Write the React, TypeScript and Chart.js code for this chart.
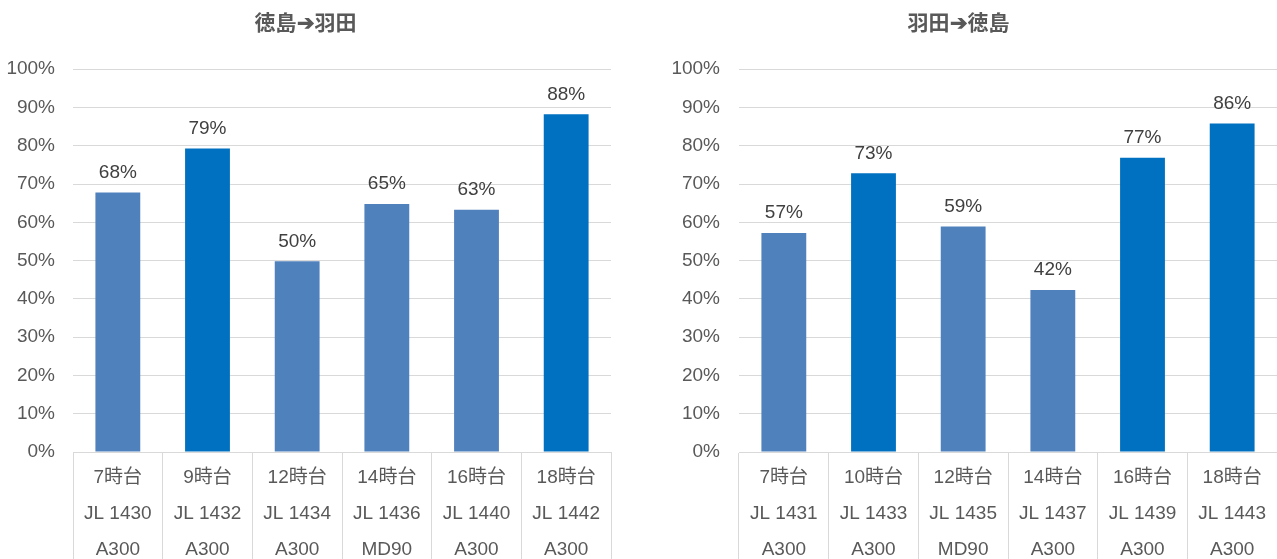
import React, { useEffect, useRef } from "react";
import { Chart, registerables } from "chart.js";

Chart.register(...registerables);

const leftTitle = "徳島➔羽田";
const leftHours = ["7時台", "9時台", "12時台", "14時台", "16時台", "18時台"];
const leftFlights = ["JL 1430", "JL 1432", "JL 1434", "JL 1436", "JL 1440", "JL 1442"];
const leftAircraft = ["A300", "A300", "A300", "MD90", "A300", "A300"];
const leftValues = [67.8, 79.3, 49.8, 64.8, 63.3, 88.2];
const leftHighlight = [false, true, false, false, false, true];

const rightTitle = "羽田➔徳島";
const rightHours = ["7時台", "10時台", "12時台", "14時台", "16時台", "18時台"];
const rightFlights = ["JL 1431", "JL 1433", "JL 1435", "JL 1437", "JL 1439", "JL 1443"];
const rightAircraft = ["A300", "A300", "MD90", "A300", "A300", "A300"];
const rightValues = [57.2, 72.8, 58.9, 42.3, 76.9, 85.8];
const rightHighlight = [false, true, false, false, true, true];

const yTicks = [0, 10, 20, 30, 40, 50, 60, 70, 80, 90, 100];

const FONT = "'Liberation Sans', Arial, 'Noto Sans CJK JP', sans-serif";
const LIGHT = "#4F81BD";
const DARK = "#0070C0";
const GRID = "#D9D9D9";
const TEXT = "#595959";

const valueLabels = {
  id: "valueLabels",
  afterDatasetsDraw(chart: any) {
    const ctx = chart.ctx;
    const meta = chart.getDatasetMeta(0);
    const data = chart.data.datasets[0].data as number[];
    ctx.save();
    ctx.font = `19px ${FONT}`;
    ctx.fillStyle = "#404040";
    ctx.textAlign = "center";
    ctx.textBaseline = "middle";
    meta.data.forEach((bar: any, i: number) => {
      ctx.fillText(Math.round(data[i]) + "%", bar.x, bar.y - 20);
    });
    ctx.restore();
  },
};

function Panel(props: {
  title: string;
  hours: string[];
  flights: string[];
  aircraft: string[];
  values: number[];
  highlight: boolean[];
  width: number;
  yWidth: number;
  yPad: number;
  rightPad: number;
}) {
  const ref = useRef<HTMLCanvasElement>(null);
  useEffect(() => {
    if (!ref.current) return;
    const labels = props.hours.map((h, i) => [h, props.flights[i], props.aircraft[i]]);
    const chart = new Chart(ref.current, {
      type: "bar",
      data: {
        labels,
        datasets: [
          {
            data: props.values,
            backgroundColor: props.highlight.map((h) => (h ? DARK : LIGHT)),
            borderWidth: 0,
            barPercentage: 0.5,
            categoryPercentage: 1,
          },
        ],
      },
      options: {
        responsive: false,
        animation: false,
        devicePixelRatio: 1,
        layout: { padding: { left: 0, right: props.rightPad, top: 0, bottom: 0 } },
        plugins: {
          legend: { display: false },
          tooltip: { enabled: false },
          title: {
            display: true,
            text: props.title,
            color: TEXT,
            font: { family: FONT, size: 21, weight: "bold", lineHeight: 1.2 },
            padding: { top: 12, bottom: 32 },
          },
        },
        scales: {
          x: {
            offset: true,
            grid: {
              offset: true,
              drawOnChartArea: false,
              drawTicks: true,
              tickLength: 107,
              color: GRID,
              lineWidth: 1,
            },
            border: { display: true, color: GRID, width: 1 },
            ticks: {
              color: TEXT,
              font: { family: FONT, size: 19, lineHeight: "36px" as any },
              padding: -99,
              maxRotation: 0,
              autoSkip: false,
            },
            afterFit: (s: any) => {
              s.height = 107;
            },
          },
          y: {
            min: 0,
            max: 100,
            afterBuildTicks: (s: any) => {
              s.ticks = yTicks.map((v) => ({ value: v }));
            },
            grid: { color: GRID, drawTicks: false, lineWidth: 1 },
            border: { display: false },
            ticks: {
              color: TEXT,
              font: { family: FONT, size: 19 },
              padding: props.yPad,
              callback: (v: any) => v + "%",
            },
            afterFit: (s: any) => {
              s.width = props.yWidth;
            },
          },
        },
      },
      plugins: [valueLabels],
    });
    return () => chart.destroy();
  }, []);
  return <canvas ref={ref} width={props.width} height={559} style={{ display: "block" }} />;
}

export default function App() {
  return (
    <div
      style={{
        position: "absolute",
        left: 0,
        top: 0,
        width: 1277,
        height: 559,
        background: "#fff",
        display: "flex",
      }}
    >
      <Panel
        title={leftTitle}
        hours={leftHours}
        flights={leftFlights}
        aircraft={leftAircraft}
        values={leftValues}
        highlight={leftHighlight}
        width={640}
        yWidth={73}
        yPad={18}
        rightPad={29}
      />
      <Panel
        title={rightTitle}
        hours={rightHours}
        flights={rightFlights}
        aircraft={rightAircraft}
        values={rightValues}
        highlight={rightHighlight}
        width={637}
        yWidth={99}
        yPad={19}
        rightPad={0}
      />
    </div>
  );
}
